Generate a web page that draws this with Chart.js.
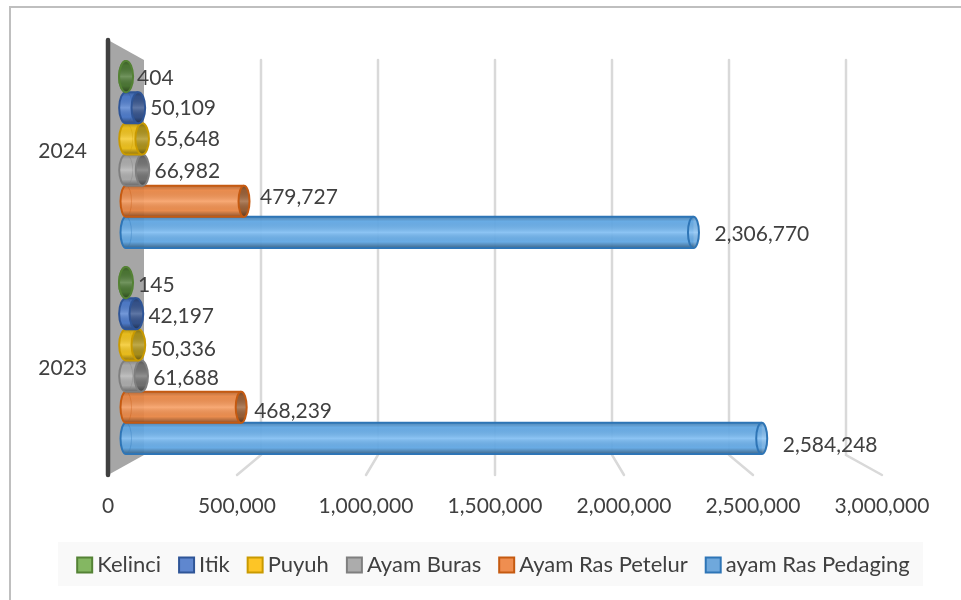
<!DOCTYPE html>
<html><head><meta charset="utf-8">
<style>html,body{margin:0;padding:0;background:#fff}#wrap{width:961px;height:600px;position:relative}canvas{display:block}</style>
<script src="https://cdn.jsdelivr.net/npm/chart.js@4"></script></head>
<body><div id="wrap"><canvas id="c" width="961" height="600"></canvas></div>
<script>
const categories = ['2024','2023'];
const seriesNames = ['Kelinci','Itik','Puyuh','Ayam Buras','Ayam Ras Petelur','ayam Ras Pedaging'];
const kelinci = [404,145];
const itik = [50109,42197];
const puyuh = [65648,50336];
const ayamBuras = [66982,61688];
const ayamRasPetelur = [479727,468239];
const ayamRasPedaging = [2306770,2584248];
const xTicks = [0,500000,1000000,1500000,2000000,2500000,3000000];

const seriesData = [kelinci,itik,puyuh,ayamBuras,ayamRasPetelur,ayamRasPedaging];
const barColors = ['rgba(100,160,72,.93)','rgba(74,124,210,.93)','rgba(250,200,20,.93)','rgba(176,176,176,.93)','rgba(245,140,70,.93)','rgba(100,175,240,.93)'];
const swatchFill = ['#84b762','#5f87cf','#fdc526','#acacac','#ef8e50','#6fa8dc'];
const edgeColors = ['#548235','#2f5597','#c99a00','#7f7f7f','#c55a11','#2e75b6'];
const capColors = ['#4e7a36','#37558f','#b0951c','#757575','#9c6238','rgba(110,180,240,.85)'];
const labelDy = [[2,3],[0,2],[0,4],[1,2],[-4,4],[2,7]];
const labelDx = [[11,12],[12,12],[12,12],[12,12],[16,13],[21,21]];
const FONT = 'Lato, Carlito, sans-serif';
const TEXT = '#404040';
const fmt = v => v.toLocaleString('en-US');

const scene3d = {
  id:'scene3d',
  afterLayout(chart){
    const s = chart.scales.yFront;
    s.top = 43; s.bottom = 476; s.height = 433; s.configure();
    const l = chart.legend;
    l.left += 55.5; l.right += 55.5;
  },
  beforeDraw(chart){
    const c = chart.ctx, w = chart.width, h = chart.height;
    c.save();
    c.fillStyle = '#fff'; c.fillRect(0,0,w,h);
    c.fillStyle = '#bfbfbf';
    c.fillRect(9,6,w-9,2); c.fillRect(9,6,2,h-6);
    c.fillStyle = '#f9f9f9'; c.fillRect(58,542,865,44);
    c.restore();
  },
  beforeDatasetsDraw(chart){
    const c = chart.ctx, back = chart.scales.xBack, front = chart.scales.x;
    const top = 60, bot = 455, ftop = 40, fbot = 475;
    c.save();
    c.lineCap = 'round';
    c.fillStyle = '#a6a6a6';
    const bx0 = back.getPixelForValue(0), fx0 = front.getPixelForValue(0);
    c.beginPath(); c.moveTo(fx0,ftop); c.lineTo(bx0,top); c.lineTo(bx0,bot); c.lineTo(fx0,fbot); c.closePath(); c.fill();
    c.strokeStyle = '#d9d9d9'; c.lineWidth = 2.5;
    xTicks.slice(1).forEach(v=>{
      const b = back.getPixelForValue(v), f = front.getPixelForValue(v);
      c.beginPath(); c.moveTo(b,top); c.lineTo(b,bot); c.lineTo(f,fbot); c.stroke();
    });
    c.strokeStyle = '#404040'; c.lineWidth = 4.5;
    c.beginPath(); c.moveTo(fx0,ftop); c.lineTo(fx0,fbot); c.stroke();
    c.restore();
  },
  afterDatasetDraw(chart,args){
    const i = args.index, c = chart.ctx, meta = args.meta;
    meta.data.forEach((el,j)=>{
      const {x,y,base,height} = el.getProps(['x','y','base','height'],true);
      const v = seriesData[i][j];
      const r = height/2, top = y-r, bot = y+r;
      const rx = Math.max(5.5, 7 - v/300000);
      const x0 = base;
      c.save();
      const g = c.createLinearGradient(0,top,0,bot);
      g.addColorStop(0,'rgba(0,0,0,.25)');
      g.addColorStop(.15,'rgba(0,0,0,.05)');
      g.addColorStop(.5,'rgba(255,255,255,.2)');
      g.addColorStop(.8,'rgba(0,0,0,.05)');
      g.addColorStop(1,'rgba(0,0,0,.42)');
      c.fillStyle = g;
      c.beginPath();
      c.moveTo(x0,top); c.lineTo(x,top); c.lineTo(x,bot); c.lineTo(x0,bot); c.closePath(); c.fill();
      c.fillStyle = barColors[i];
      c.beginPath(); c.ellipse(x0,y,rx,r,0,Math.PI/2,Math.PI*1.5); c.fill();
      c.fillStyle = g;
      c.beginPath(); c.ellipse(x0,y,rx,r,0,Math.PI/2,Math.PI*1.5); c.fill();
      c.strokeStyle = edgeColors[i]; c.lineWidth = 2;
      c.beginPath();
      c.ellipse(x0,y,rx,r,0,Math.PI/2,Math.PI*1.5);
      c.lineTo(x,top); c.moveTo(x0,bot); c.lineTo(x,bot);
      c.stroke();
      c.globalAlpha = .35; c.lineWidth = 1;
      c.beginPath(); c.ellipse(x0,y,rx,r,0,-Math.PI/2,Math.PI/2); c.stroke();
      c.globalAlpha = 1;
      c.fillStyle = capColors[i];
      c.beginPath(); c.ellipse(x,y,rx,r,0,0,Math.PI*2); c.fill();
      c.fillStyle = g; c.fill();
      c.strokeStyle = edgeColors[i]; c.lineWidth = 2; c.stroke();
      c.restore();
    });
  },
  afterDatasetsDraw(chart){
    const c = chart.ctx;
    c.save();
    c.font = '21px '+FONT; c.fillStyle = TEXT; c.textBaseline = 'middle'; c.textAlign = 'left';
    seriesData.forEach((arr,i)=>{
      chart.getDatasetMeta(i).data.forEach((el,j)=>{
        c.fillText(fmt(arr[j]), el.x+labelDx[i][j], el.y+labelDy[i][j]);
      });
    });
    c.restore();
  }
};

new Chart(document.getElementById('c'),{
  type:'bar',
  data:{
    labels:categories,
    datasets:seriesNames.map((n,i)=>({
      label:n, data:seriesData[i], backgroundColor:barColors[i], borderWidth:0,
      xAxisID:'xBar', yAxisID:'y', categoryPercentage:.908, barPercentage:1
    }))
  },
  plugins:[scene3d],
  options:{
    indexAxis:'y', responsive:false, animation:false,
    layout:{padding:{left:0,right:79,top:51.5,bottom:14}},
    scales:{
      y:{type:'category',display:false},
      yFront:{type:'category',position:'left',grid:{display:false},border:{display:false},
        ticks:{font:{family:FONT,size:21},color:TEXT,padding:13,autoSkip:false},
        afterFit(s){s.width=108;}},
      x:{type:'linear',position:'bottom',min:0,max:3000000,grid:{display:false},border:{display:false},
        afterBuildTicks(s){s.ticks=xTicks.map(value=>({value}));},
        ticks:{font:{family:FONT,size:21},color:TEXT,padding:22,autoSkip:false,maxRotation:0,callback:v=>fmt(v)},
        afterFit(s){s.height=66.5;}},
      xBar:{type:'linear',display:false,min:-73171,max:3073171},
      xBack:{type:'linear',display:false,min:-153846,max:3153846}
    },
    plugins:{
      tooltip:{enabled:false},
      legend:{position:'bottom',
        labels:{font:{family:FONT,size:22},color:TEXT,usePointStyle:true,boxWidth:3,boxHeight:15,padding:24,
          generateLabels:()=>seriesNames.map((n,i)=>({text:n,fillStyle:swatchFill[i],strokeStyle:edgeColors[i],lineWidth:2,fontColor:TEXT,pointStyle:'rect',datasetIndex:i}))}}
    }
  }
});
</script></body></html>
